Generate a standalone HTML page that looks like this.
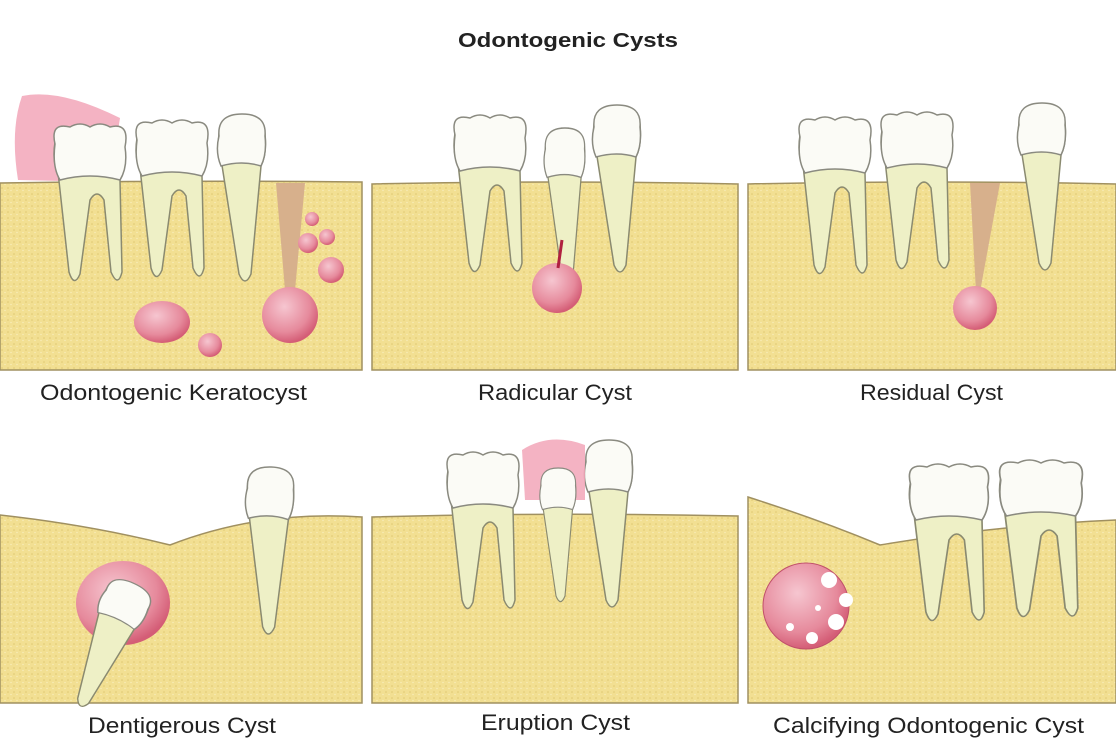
<!DOCTYPE html>
<html><head><meta charset="utf-8"><style>
html,body{margin:0;padding:0;background:#fff;}
svg{display:block}
text{font-family:"Liberation Sans",sans-serif;fill:#222}
</style></head><body>
<svg width="1116" height="756" viewBox="0 0 1116 756" xmlns="http://www.w3.org/2000/svg">
<defs>
<pattern id="dots" width="6" height="6" patternUnits="userSpaceOnUse">
<rect width="6" height="6" fill="#f2df92"/><circle cx="2" cy="2" r="0.8" fill="#dfc872"/><circle cx="5" cy="4.5" r="0.6" fill="#fbf1c6"/>
</pattern>
<radialGradient id="cyst" cx="40%" cy="35%" r="65%"><stop offset="0" stop-color="#f6c6d0"/><stop offset="0.7" stop-color="#e68a9c"/><stop offset="1" stop-color="#d45d76"/></radialGradient>
<g id="molar">
<path d="M8,50 Q2,40 5,20 L72,22 Q78,45 70,58 L72,150 Q68,166 61,150 L54,78 Q47,66 40,78 L30,152 Q24,166 19,150 Z" fill="#eef0c6" stroke="#8a8a70" stroke-width="1.5"/>
<path d="M5,22 Q0,0 20,5 Q30,-1 40,5 Q50,-1 60,5 Q80,0 75,25 Q78,45 70,58 Q40,50 10,58 Q2,45 5,22Z" fill="#fbfbf6" stroke="#8a8a80" stroke-width="1.5"/>
</g>
<g id="pre">
<path d="M6,45 Q2,35 4,20 L50,20 Q52,40 46,52 L36,160 Q30,174 24,160 Z" fill="#eef0c6" stroke="#8a8a70" stroke-width="1.5"/>
<path d="M4,22 Q2,0 27,0 Q52,0 50,22 Q52,40 46,52 Q27,46 6,52 Q0,38 4,22Z" fill="#fbfbf6" stroke="#8a8a80" stroke-width="1.5"/>
</g>
</defs>
<text x="458" y="47" textLength="220" lengthAdjust="spacingAndGlyphs" font-weight="bold" font-size="20">Odontogenic Cysts</text>

<!-- Panel 1 -->
<path d="M22,96 Q60,88 120,118 L110,182 L18,180 Q10,130 22,96Z" fill="#f2a6b8" opacity="0.85"/>
<path d="M0,183 Q180,180 362,182 L362,370 L0,370Z" fill="url(#dots)" stroke="#a09060" stroke-width="1.5"/>
<use href="#molar" x="50" y="122"/>
<use href="#molar" x="132" y="118"/>
<use href="#pre" x="215" y="114"/>
<path d="M276,183 L305,183 L295,290 L285,290Z" fill="#d7b08c"/>
<circle cx="290" cy="315" r="28" fill="url(#cyst)"/>
<ellipse cx="162" cy="322" rx="28" ry="21" fill="url(#cyst)"/>
<circle cx="210" cy="345" r="12" fill="url(#cyst)"/>
<circle cx="331" cy="270" r="13" fill="url(#cyst)"/>
<circle cx="308" cy="243" r="10" fill="url(#cyst)"/>
<circle cx="327" cy="237" r="8" fill="url(#cyst)"/>
<circle cx="312" cy="219" r="7" fill="url(#cyst)"/>
<text x="40" y="400" textLength="267" lengthAdjust="spacingAndGlyphs" font-size="22">Odontogenic Keratocyst</text>

<!-- Panel 2 -->
<path d="M372,184 Q550,180 738,184 L738,370 L372,370Z" fill="url(#dots)" stroke="#a09060" stroke-width="1.5"/>
<use href="#molar" x="450" y="113"/>
<use href="#pre" transform="translate(542,128) scale(0.85,0.95)"/>
<use href="#pre" x="590" y="105"/>
<circle cx="557" cy="288" r="25" fill="url(#cyst)"/>
<path d="M562,240 L558,268" stroke="#b02040" stroke-width="3"/>
<text x="478" y="400" textLength="154" lengthAdjust="spacingAndGlyphs" font-size="22">Radicular Cyst</text>

<!-- Panel 3 -->
<path d="M748,184 Q930,180 1116,184 L1116,370 L748,370Z" fill="url(#dots)" stroke="#a09060" stroke-width="1.5"/>
<use href="#molar" x="795" y="115"/>
<use href="#molar" x="877" y="110"/>
<use href="#pre" x="1015" y="103"/>
<path d="M970,183 L1000,183 L980,292 L976,292Z" fill="#d7b08c"/>
<circle cx="975" cy="308" r="22" fill="url(#cyst)"/>
<text x="860" y="400" textLength="143" lengthAdjust="spacingAndGlyphs" font-size="22">Residual Cyst</text>

<!-- Panel 4 -->
<path d="M0,515 Q90,525 170,545 Q260,510 362,517 L362,703 L0,703Z" fill="url(#dots)" stroke="#a09060" stroke-width="1.5"/>
<use href="#pre" x="242" y="467" transform="rotate(2 270 530)"/>
<ellipse cx="123" cy="603" rx="47" ry="42" fill="url(#cyst)"/>
<g transform="rotate(25 120 610)"><use href="#pre" transform="translate(95,580) scale(1,0.8)"/></g>
<text x="88" y="733" textLength="188" lengthAdjust="spacingAndGlyphs" font-size="22">Dentigerous Cyst</text>

<!-- Panel 5 -->
<path d="M372,517 Q550,512 738,516 L738,703 L372,703Z" fill="url(#dots)" stroke="#a09060" stroke-width="1.5"/>
<use href="#molar" x="443" y="450"/>
<use href="#pre" x="582" y="440"/>
<path d="M522,450 Q550,432 585,445 L585,500 L525,500Z" fill="#f2a6b8" opacity="0.85"/>
<use href="#pre" transform="translate(538,468) scale(0.75,0.8)"/>
<text x="481" y="730" textLength="149" lengthAdjust="spacingAndGlyphs" font-size="22">Eruption Cyst</text>

<!-- Panel 6 -->
<path d="M748,497 Q820,520 880,545 Q1000,525 1116,520 L1116,703 L748,703Z" fill="url(#dots)" stroke="#a09060" stroke-width="1.5"/>
<use href="#molar" transform="translate(905,462) scale(1.1,1)"/>
<use href="#molar" transform="translate(995,458) scale(1.15,1)"/>
<circle cx="806" cy="606" r="43" fill="url(#cyst)" stroke="#c0506a" stroke-width="1"/>
<circle cx="829" cy="580" r="8" fill="#fff"/><circle cx="846" cy="600" r="7" fill="#fff"/>
<circle cx="836" cy="622" r="8" fill="#fff"/><circle cx="812" cy="638" r="6" fill="#fff"/>
<circle cx="790" cy="627" r="4" fill="#fff"/><circle cx="818" cy="608" r="3" fill="#fff"/>
<text x="773" y="733" textLength="311" lengthAdjust="spacingAndGlyphs" font-size="22">Calcifying Odontogenic Cyst</text>
</svg>
</body></html>
